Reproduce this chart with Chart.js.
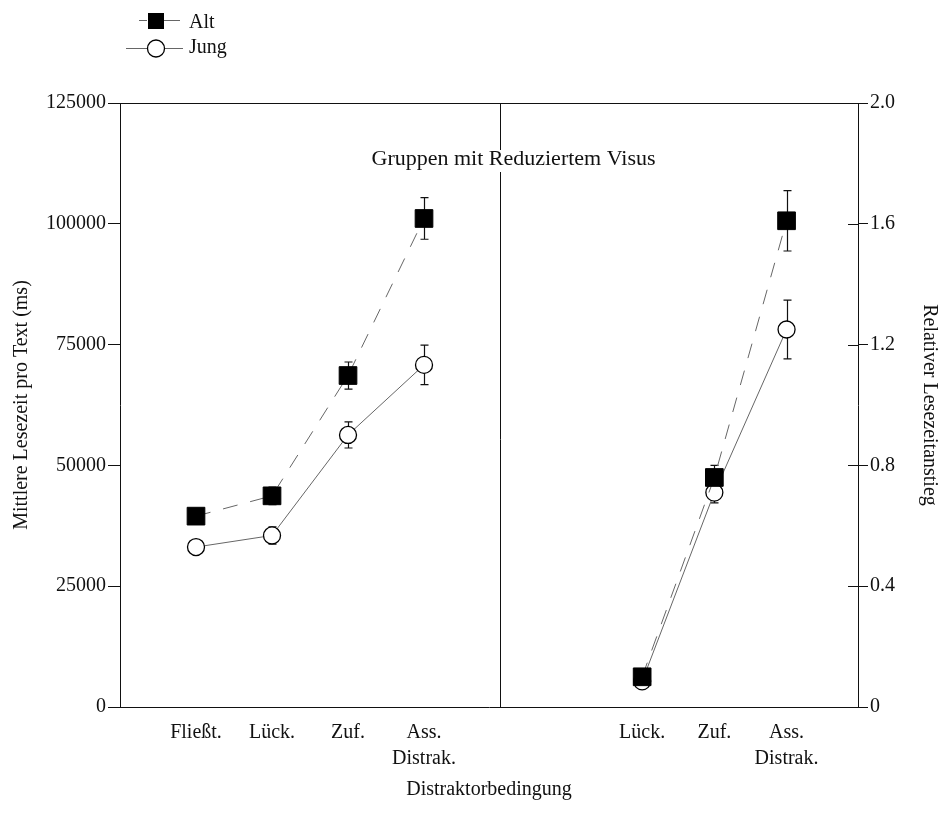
<!DOCTYPE html>
<html>
<head>
<meta charset="utf-8">
<script src="https://cdn.jsdelivr.net/npm/chart.js@4.4.1/dist/chart.umd.min.js"></script>
<style>
    html, body { margin: 0; padding: 0; background: #fff; }
    #wrap { width: 943px; height: 814px; }
</style>
</head>
<body>
<div id="wrap"><canvas id="chart"></canvas></div>
<script>
// categories (x tick labels)
const leftLabels = ['Fließt.', 'Lück.', 'Zuf.', ['Ass.', 'Distrak.']];
const rightLabels = ['Lück.', 'Zuf.', ['Ass.', 'Distrak.']];

// left panel: mean reading time per text (ms)
const altLeft = [39500, 43700, 68600, 101100];
const altLeftErr = [1000, 1800, 2800, 4300];
const jungLeft = [33100, 35500, 56300, 70800];
const jungLeftErr = [800, 1800, 2700, 4100];

// right panel: relative increase of reading time
const altRight = [0.10, 0.76, 1.61];
const altRightErr = [0.02, 0.04, 0.10];
const jungRight = [0.085, 0.71, 1.25];
const jungRightErr = [0.01, 0.034, 0.097];

// y tick labels
const leftTicks = [0, 25000, 50000, 75000, 100000, 125000];
const rightTicks = [0, 0.4, 0.8, 1.2, 1.6, 2.0];

const panelTitle = 'Gruppen mit Reduziertem Visus';

// where the groups sit on the shared x axis
const leftPos = [1, 2, 3, 4];
const rightPos = [6.87, 7.82, 8.77];
const dividerPos = 5;
const xMax = 9.71;

const FONT = "'Liberation Serif', 'Times New Roman', serif";
Chart.defaults.font.family = FONT;
Chart.defaults.font.size = 20;
Chart.defaults.color = '#111';

function points(pos, values) {
    return pos.map((x, i) => ({ x: x, y: values[i] }));
}

const altStyle = {
    borderColor: '#666', borderWidth: 1, borderDash: [15, 13],
    pointStyle: 'rect', pointRadius: 12.5, pointHoverRadius: 12.5,
    pointBackgroundColor: '#000', pointBorderColor: '#000', pointBorderWidth: 1,
    order: 0
};
const jungStyle = {
    borderColor: '#666', borderWidth: 1,
    pointStyle: 'circle', pointRadius: 8.5, pointHoverRadius: 8.5,
    pointBackgroundColor: '#fff', pointBorderColor: '#000', pointBorderWidth: 1.3,
    order: 1
};

const data = {
    datasets: [
        Object.assign({ label: 'Alt', data: points(leftPos, altLeft), errors: altLeftErr, yAxisID: 'yL' }, altStyle),
        Object.assign({ label: 'Alt', data: points(rightPos, altRight), errors: altRightErr, yAxisID: 'yR' }, altStyle),
        Object.assign({ label: 'Jung', data: points(leftPos, jungLeft), errors: jungLeftErr, yAxisID: 'yL' }, jungStyle),
        Object.assign({ label: 'Jung', data: points(rightPos, jungRight), errors: jungRightErr, yAxisID: 'yR' }, jungStyle)
    ]
};

const errorBars = {
    id: 'errorBars',
    beforeDatasetsDraw: (chart) => {
        const ctx = chart.ctx;
        const xScale = chart.scales.x;
        ctx.save();
        ctx.strokeStyle = '#111';
        ctx.lineWidth = 1.2;
        chart.data.datasets.forEach((ds) => {
            const yScale = chart.scales[ds.yAxisID];
            ds.data.forEach((p, i) => {
                const e = ds.errors[i];
                const x = Math.round(xScale.getPixelForValue(p.x)) + 0.5;
                const y1 = yScale.getPixelForValue(p.y + e);
                const y2 = yScale.getPixelForValue(p.y - e);
                ctx.beginPath();
                ctx.moveTo(x, y1); ctx.lineTo(x, y2);
                ctx.moveTo(x - 4, y1); ctx.lineTo(x + 4, y1);
                ctx.moveTo(x - 4, y2); ctx.lineTo(x + 4, y2);
                ctx.stroke();
            });
        });
        ctx.restore();
    }
};

const frame = {
    id: 'frame',
    afterDraw: (chart) => {
        const ctx = chart.ctx;
        const a = chart.chartArea;
        const xd = Math.round(chart.scales.x.getPixelForValue(dividerPos)) + 0.5;
        const ty = a.top + 56;
        ctx.save();
        ctx.strokeStyle = '#111';
        ctx.lineWidth = 1;

        // top border
        ctx.beginPath();
        ctx.moveTo(a.left, Math.round(a.top) + 0.5);
        ctx.lineTo(a.right, Math.round(a.top) + 0.5);
        ctx.stroke();

        // divider between the panels, broken by the panel title
        ctx.beginPath();
        ctx.moveTo(xd, a.top); ctx.lineTo(xd, ty - 9);
        ctx.moveTo(xd, ty + 13); ctx.lineTo(xd, a.bottom);
        ctx.stroke();

        // inner half of the right axis ticks
        const yR = chart.scales.yR;
        ctx.beginPath();
        yR.ticks.forEach((t) => {
            const y = Math.round(yR.getPixelForValue(t.value)) + 0.5;
            ctx.moveTo(a.right - 10, y); ctx.lineTo(a.right, y);
        });
        ctx.stroke();

        ctx.fillStyle = '#111';
        ctx.font = '22px ' + FONT;
        ctx.textAlign = 'center';
        ctx.textBaseline = 'middle';
        ctx.fillText(panelTitle, xd + 13, ty);

        // legend
        const alt = chart.data.datasets[0];
        const jung = chart.data.datasets[2];
        ctx.strokeStyle = alt.borderColor;
        ctx.beginPath();
        ctx.moveTo(139, 20.5); ctx.lineTo(147, 20.5);
        ctx.moveTo(164, 20.5); ctx.lineTo(180, 20.5);
        ctx.stroke();
        ctx.fillStyle = alt.pointBackgroundColor;
        ctx.fillRect(148, 13, 16, 16);

        ctx.strokeStyle = jung.borderColor;
        ctx.beginPath();
        ctx.moveTo(126, 48.5); ctx.lineTo(183, 48.5);
        ctx.stroke();
        ctx.beginPath();
        ctx.arc(156, 48.5, 8.5, 0, Math.PI * 2);
        ctx.fillStyle = jung.pointBackgroundColor;
        ctx.fill();
        ctx.strokeStyle = jung.pointBorderColor;
        ctx.lineWidth = 1.3;
        ctx.stroke();

        ctx.fillStyle = '#111';
        ctx.font = '20px ' + FONT;
        ctx.textAlign = 'left';
        ctx.textBaseline = 'alphabetic';
        ctx.fillText(alt.label, 189, 28);
        ctx.fillText(jung.label, 189, 53);
        ctx.restore();
    }
};

const xTickPos = leftPos.concat(rightPos);
const xTickLabels = leftLabels.concat(rightLabels);

const config = {
    type: 'line',
    data: data,
    options: {
        responsive: true,
        maintainAspectRatio: false,
        animation: false,
        events: [],
        layout: {
            padding: { top: 103, left: 0, right: 0, bottom: 0 }
        },
        plugins: {
            legend: { display: false },
            tooltip: { enabled: false }
        },
        scales: {
            x: {
                type: 'linear',
                min: 0,
                max: xMax,
                afterBuildTicks: (axis) => {
                    axis.ticks = xTickPos.map((v) => ({ value: v }));
                },
                afterFit: (axis) => { axis.height = 107; },
                ticks: {
                    autoSkip: false,
                    maxRotation: 0,
                    padding: 13,
                    font: { size: 20, lineHeight: 1.3 },
                    callback: (value, index) => xTickLabels[index]
                },
                grid: { display: true, drawOnChartArea: false, drawTicks: false },
                border: { display: true, color: '#111', width: 1 },
                title: {
                    display: true,
                    text: 'Distraktorbedingung',
                    font: { size: 20 },
                    padding: { top: 0, bottom: 12 }
                }
            },
            yL: {
                type: 'linear',
                position: 'left',
                min: 0,
                max: 125000,
                afterBuildTicks: (axis) => {
                    axis.ticks = leftTicks.map((v) => ({ value: v }));
                },
                afterFit: (axis) => { axis.width = 120; },
                ticks: {
                    padding: 2,
                    callback: (value) => String(value)
                },
                grid: { drawOnChartArea: false, tickLength: 12, color: '#111', lineWidth: 1 },
                border: { display: true, color: '#111', width: 1 },
                title: {
                    display: true,
                    text: 'Mittlere Lesezeit pro Text (ms)',
                    font: { size: 20 },
                    padding: { top: 10, bottom: 0 }
                }
            },
            yR: {
                type: 'linear',
                position: 'right',
                min: 0,
                max: 2,
                afterBuildTicks: (axis) => {
                    axis.ticks = rightTicks.map((v) => ({ value: v }));
                },
                afterFit: (axis) => { axis.width = 85; },
                ticks: {
                    padding: 2,
                    callback: (value) => value === 0 ? '0' : value.toFixed(1)
                },
                grid: { drawOnChartArea: false, tickLength: 10, color: '#111', lineWidth: 1 },
                border: { display: true, color: '#111', width: 1 },
                title: {
                    display: true,
                    text: 'Relativer Lesezeitanstieg',
                    font: { size: 20 },
                    padding: { top: 2, bottom: 0 }
                }
            }
        }
    },
    plugins: [errorBars, frame]
};

new Chart(document.getElementById('chart'), config);
</script>
</body>
</html>
